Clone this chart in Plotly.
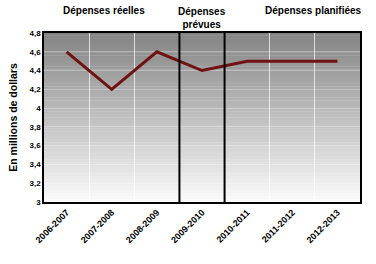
import plotly.graph_objects as go

categories = ["2006-2007", "2007-2008", "2008-2009", "2009-2010", "2010-2011", "2011-2012", "2012-2013"]
values = [4.6, 4.2, 4.6, 4.4, 4.5, 4.5, 4.5]
y_ticks = [3, 3.2, 3.4, 3.6, 3.8, 4, 4.2, 4.4, 4.6, 4.8]
section_labels = ["Dépenses réelles", "Dépenses<br>prévues", "Dépenses planifiées"]
section_x = [0.82, 3.0, 5.48]
divider_x = [2.5, 3.5]

fig = go.Figure()

# gradient background
n = 60
top = (132, 132, 132)
bot = (250, 250, 250)
shapes = []
for i in range(n):
    t = i / (n - 1)
    c = tuple(int(round(top[k] + (bot[k] - top[k]) * t)) for k in range(3))
    shapes.append(dict(type="rect", xref="x domain", yref="y domain",
                       x0=0, x1=1, y0=1 - (i + 1) / n, y1=1 - i / n + 0.002,
                       fillcolor="rgb(%d,%d,%d)" % c, line=dict(width=0), layer="below"))
for dx in divider_x:
    shapes.append(dict(type="line", xref="x", yref="y domain", x0=dx, x1=dx, y0=0, y1=1,
                       line=dict(color="black", width=2), layer="above"))

fig.add_trace(go.Scatter(x=categories, y=values, mode="lines",
                         line=dict(color="#6e1214", width=3), hoverinfo="skip"))

annotations = []
for lbl, sx in zip(section_labels, section_x):
    annotations.append(dict(text="<b>%s</b>" % lbl, x=sx, xref="x", y=1.0, yref="paper",
                            yanchor="bottom", yshift=1 if "<br>" in lbl else 15,
                            showarrow=False, font=dict(size=10, color="black", family="Arial")))

fig.update_layout(
    width=376, height=264,
    margin=dict(l=44, r=16, t=33, b=62),
    paper_bgcolor="white", plot_bgcolor="white",
    showlegend=False, separators=", ",
    font=dict(family="Arial", color="black"),
    shapes=shapes, annotations=annotations,
    xaxis=dict(type="category", range=[-0.5, 6.5], tickson="boundaries",
               showgrid=True, gridcolor="rgba(255,255,255,0.7)", gridwidth=1,
               tickangle=-45, tickfont=dict(size=9, family="Arial", weight="bold"),
               ticks="", showline=True, linecolor="black", linewidth=1.5, mirror=True),
    yaxis=dict(range=[3, 4.8], tickvals=y_ticks, showgrid=True,
               gridcolor="rgba(255,255,255,0.3)", gridwidth=1,
               tickfont=dict(size=8, family="Arial", weight="bold"), ticks="",
               showline=True, linecolor="black", linewidth=1.5, mirror=True,
               title=dict(text="<b>En millions de dollars</b>", font=dict(size=10.5), standoff=10)),
)

fig.write_html("out.html")
